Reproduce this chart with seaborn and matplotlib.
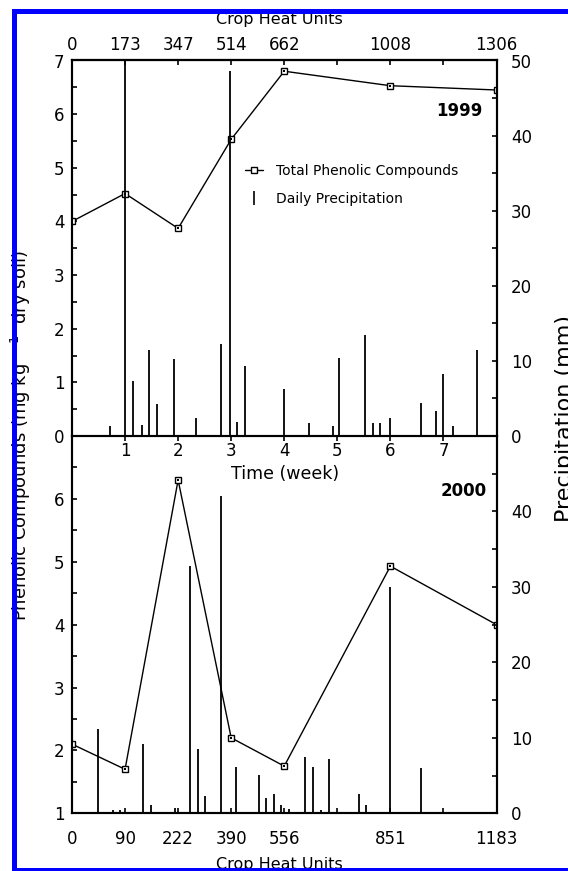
import matplotlib
matplotlib.use("Agg")
import matplotlib.pyplot as plt
from matplotlib.lines import Line2D
from matplotlib.ticker import MultipleLocator, FixedLocator
import seaborn as sns
import pandas as pd

# ---------------- data ----------------
phen_weeks = [0, 1, 2, 3, 4, 6, 8]
phen_1999 = [4.0, 4.52, 3.87, 5.53, 6.80, 6.53, 6.45]
phen_2000 = [2.1, 1.7, 6.3, 2.2, 1.75, 4.93, 4.0]

rain_week_1999 = [0.72, 1.0, 1.15, 1.32, 1.45, 1.60, 1.92, 2.34, 2.81, 2.97, 3.11, 3.26,
                  4.0, 4.46, 4.91, 5.03, 5.52, 5.67, 5.81, 5.99, 6.58, 6.86, 7.0, 7.18, 7.64]
rain_mm_1999 = [1.3, 50.0, 7.35, 1.5, 11.4, 4.3, 10.3, 2.35, 12.3, 48.6, 1.8, 9.35,
                6.25, 1.7, 1.3, 10.4, 13.4, 1.7, 1.7, 2.35, 4.35, 3.3, 8.3, 1.3, 11.4]

rain_week_2000 = [0.485, 0.77, 0.91, 1.345, 1.485, 1.95, 2.23, 2.37, 2.51, 2.81, 3.09, 3.52,
                  3.66, 3.80, 3.94, 4.09, 4.40, 4.55, 4.70, 4.84, 5.41, 5.55, 6.0, 6.58]
rain_mm_2000 = [11.2, 0.5, 0.5, 9.2, 1.1, 0.75, 32.8, 8.55, 2.3, 42.1, 6.15, 5.1,
                2.0, 2.6, 1.15, 0.6, 7.5, 6.2, 0.5, 7.2, 2.6, 1.15, 30.0, 6.0]

week_ticks = [0, 1, 2, 3, 4, 5, 6, 7, 8]
chu_1999 = ["0", "173", "347", "514", "662", "", "1008", "", "1306"]
chu_2000 = ["0", "90", "222", "390", "556", "", "851", "", "1183"]
time_ticks = [1, 2, 3, 4, 5, 6, 7]

# ---------------- style ----------------
sns.set_style("ticks")
plt.rcParams['font.family'] = ['DejaVu Sans']
plt.rcParams.update({
    'axes.linewidth': 1.5,
    'axes.edgecolor': 'black',
    'text.color': 'black',
    'axes.labelcolor': 'black',
    'xtick.color': 'black',
    'ytick.color': 'black',
})

W, H = 568, 871
fig = plt.figure(figsize=(W / 100, H / 100), dpi=100)
fig.patch.set_facecolor("white")


def fx(px):
    return px / W


def fy(py):
    return 1 - py / H


L, R = 72, 496.5
TOP, MID, BOT = 60.5, 436, 813.3
ax1 = fig.add_axes([fx(L), fy(MID), (R - L) / W, (MID - TOP) / H])
ax2 = fig.add_axes([fx(L), fy(BOT), (R - L) / W, (BOT - MID) / H])
ax2.patch.set_visible(False)
ax1r = ax1.twinx()
ax2r = ax2.twinx()

TICKFS = 12
mk = dict(marker="s", markersize=5, markerfacecolor="white",
          markeredgecolor="black", markeredgewidth=1.0)

# ---- top panel (1999) ----
df99 = pd.DataFrame({"week": phen_weeks, "phen": phen_1999})
sns.lineplot(data=df99, x="week", y="phen", ax=ax1, color="black", lw=1.0, **mk, zorder=3)
sns.scatterplot(data=df99, x="week", y="phen", ax=ax1, color="black", marker="s", s=2,
                linewidth=0, zorder=4)
ax1r.vlines(rain_week_1999, 0, rain_mm_1999, color="black", lw=1.3)

ax1.set_xlim(0, 8)
ax1.set_ylim(0, 7)
ax1r.set_ylim(0, 50)
ax1.set_xticks(time_ticks)
ax1.set_xticklabels([str(t) for t in time_ticks])
ax1.set_yticks(range(0, 8))
ax1.yaxis.set_minor_locator(MultipleLocator(0.5))
ax1r.set_yticks(range(0, 51, 10))
ax1r.yaxis.set_minor_locator(MultipleLocator(5))
ax1.tick_params(axis="x", direction="out", length=3.6, width=1.2, pad=0.8, labelsize=TICKFS)
ax1.tick_params(axis="y", which="both", direction="in", length=3.6, width=1.2, pad=5.5,
                labelsize=TICKFS)
ax1r.tick_params(axis="y", which="both", direction="in", length=3.6, width=1.2, pad=10.5,
                 labelsize=TICKFS)
ax1.set_xlabel("")
ax1.set_ylabel("")
ax1r.set_ylabel("")

sec = ax1.secondary_xaxis("top")
sec.set_xticks(week_ticks)
sec.set_xticklabels(chu_1999)
sec.tick_params(direction="in", length=3.6, width=1.2, pad=5, labelsize=TICKFS,
                colors="black")
sec.spines["top"].set_linewidth(1.5)
sec.spines["top"].set_color("black")

ax1.text(0.9675, 0.8655, "1999", transform=ax1.transAxes, ha="right", va="center",
         fontsize=12, fontweight="bold")

legend_handles = [
    Line2D([], [], color="black", lw=1.0, **mk),
    Line2D([], [], color="black", lw=0, marker="|", markersize=10, markeredgewidth=1.2),
]
ax1.legend(legend_handles, ["Total Phenolic Compounds", "Daily Precipitation"],
           loc="upper left", bbox_to_anchor=(fx(245), fy(164)), bbox_transform=fig.transFigure,
           frameon=False, fontsize=10, handlelength=1.3, handletextpad=0.95,
           labelspacing=1.0, borderpad=0, borderaxespad=0)

# ---- bottom panel (2000) ----
df00 = pd.DataFrame({"week": phen_weeks, "phen": phen_2000})
sns.lineplot(data=df00, x="week", y="phen", ax=ax2, color="black", lw=1.0, **mk, zorder=3)
sns.scatterplot(data=df00, x="week", y="phen", ax=ax2, color="black", marker="s", s=2,
                linewidth=0, zorder=4)
ax2r.vlines(rain_week_2000, 0, rain_mm_2000, color="black", lw=1.3)

ax2.set_xlim(0, 8)
ax2.set_ylim(1, 7)
ax2r.set_ylim(0, 50)
ax2.set_xticks(week_ticks)
ax2.set_xticklabels(chu_2000)
ax2.set_yticks(range(1, 7))
ax2.yaxis.set_minor_locator(FixedLocator([1.5, 2.5, 3.5, 4.5, 5.5, 6.5]))
ax2r.set_yticks(range(0, 41, 10))
ax2r.yaxis.set_minor_locator(FixedLocator([5, 15, 25, 35, 45]))
ax2.tick_params(axis="x", direction="in", length=3.6, width=1.2, pad=12, labelsize=TICKFS)
ax2.tick_params(axis="y", which="both", direction="in", length=3.6, width=1.2, pad=5.5,
                labelsize=TICKFS)
ax2r.tick_params(axis="y", which="both", direction="in", length=3.6, width=1.2, pad=10.5,
                 labelsize=TICKFS)
ax2.set_xlabel("")
ax2.set_ylabel("")
ax2r.set_ylabel("")
for a in (ax2, ax2r):
    a.spines["top"].set_visible(False)

ax2.text(0.9776, 0.855, "2000", transform=ax2.transAxes, ha="right", va="center",
         fontsize=12, fontweight="bold")

for a in (ax1, ax1r, ax2, ax2r):
    for s in a.spines.values():
        s.set_linewidth(1.5)
        s.set_color("black")

# ---- labels ----
fig.text(fx(285), fy(474), "Time (week)", ha="center", va="center", fontsize=12.5)
fig.text(fx(279), fy(19.5), "Crop Heat Units", ha="center", va="center", fontsize=11.5)
fig.text(fx(279), fy(864), "Crop Heat Units", ha="center", va="center", fontsize=11.5)
fig.text(fx(21), fy(436), r"Phenolic Compounds (mg kg$^{\ -1}$  dry soil)", rotation=90,
         ha="center", va="center", fontsize=13)
fig.text(fx(555), fy(419), "Precipitation (mm)", rotation=90, ha="left", va="center",
         fontsize=16)

# ---- blue frame ----
blue = "#0000ff"
xl, yt, yb = fx(13.5), fy(10.8), fy(869.8)
for xs, ys in [((xl, xl), (yt, yb)), ((xl, 1.05), (yt, yt)), ((xl, 1.05), (yb, yb))]:
    fig.add_artist(Line2D(xs, ys, transform=fig.transFigure, color=blue, lw=3.6,
                          zorder=20, solid_capstyle="projecting"))

fig.savefig("out.png", dpi=100, facecolor="white")
